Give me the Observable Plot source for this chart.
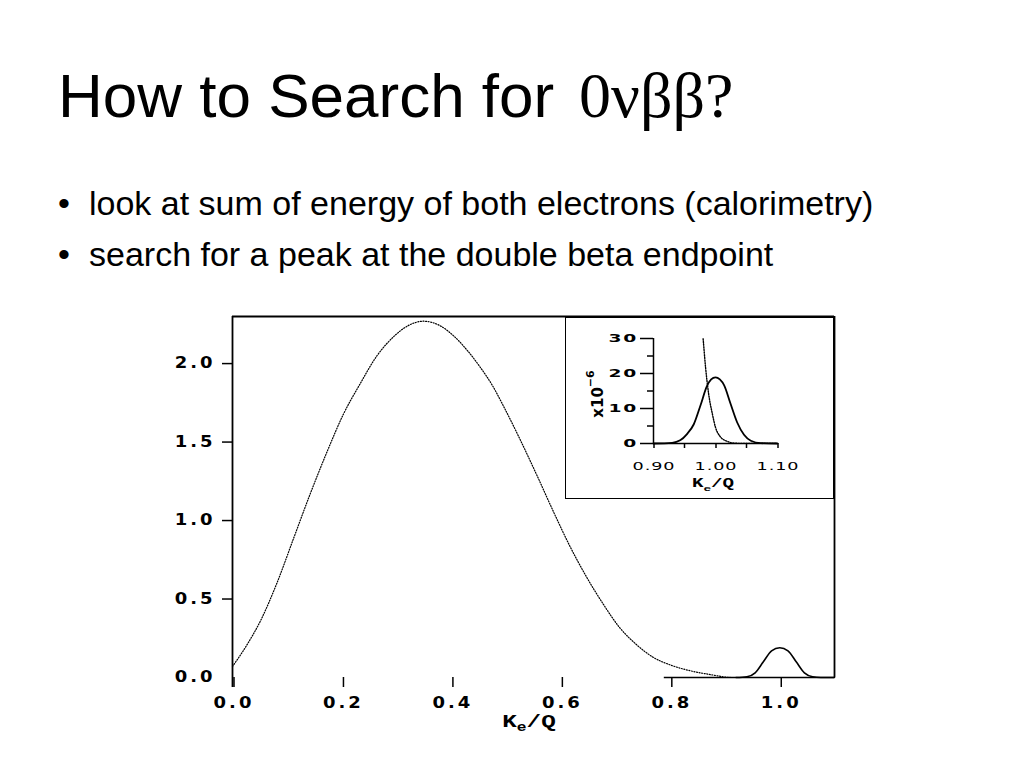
<!DOCTYPE html>
<html>
<head>
<meta charset="utf-8">
<script src="https://cdn.jsdelivr.net/npm/d3@7"></script>
<script src="https://cdn.jsdelivr.net/npm/@observablehq/plot@0.6"></script>
<style>
  html, body { margin: 0; padding: 0; background: #fff; }
  #page { position: relative; width: 1024px; height: 768px; overflow: hidden; background: #fff; }
  #main, #inset { position: absolute; }
  #main { left: 0; top: 290px; }
  #inset { left: 566px; top: 318px; outline: 1.5px solid #000; background: #fff; }
  .tick-lab text { letter-spacing: 2.5px; }
  .tick-lab-in text { letter-spacing: 0.6px; }
  .tick-lab-iny text { letter-spacing: 1px; }
</style>
</head>
<body>
<div id="page">
  <svg id="txt" width="1024" height="290" style="position:absolute;left:0;top:0">
    <text x="58" y="117" style="font-family:'Liberation Sans',Arial,sans-serif;font-size:62px;fill:#000">How to Search for <tspan x="579" style="font-family:'Liberation Serif','Times New Roman',serif;font-size:64px">0νββ?</tspan></text>
    <text x="58" y="215" style="font-family:'Liberation Sans',Arial,sans-serif;font-size:34px;fill:#000">•</text>
    <text x="89" y="215" style="font-family:'Liberation Sans',Arial,sans-serif;font-size:34px;fill:#000">look at sum of energy of both electrons (calorimetry)</text>
    <text x="58" y="266" style="font-family:'Liberation Sans',Arial,sans-serif;font-size:34px;fill:#000">•</text>
    <text x="89" y="266" style="font-family:'Liberation Sans',Arial,sans-serif;font-size:34px;fill:#000">search for a peak at the double beta endpoint</text>
  </svg>
  <div id="main"></div>
  <div id="inset"></div>
</div>
<script>
// ---- Main spectrum: two-neutrino (2νββ) continuum ----
const twoNuX = [0.000, 0.025, 0.051, 0.081, 0.112, 0.142, 0.173, 0.203, 0.233, 0.264, 0.294, 0.320, 0.349, 0.380, 0.403, 0.430, 0.452, 0.475, 0.495, 0.525, 0.556, 0.586, 0.616, 0.647, 0.677, 0.707, 0.738, 0.768, 0.800, 0.840, 0.871, 0.913, 1.100];
const twoNuY = [0.07, 0.20, 0.36, 0.60, 0.89, 1.17, 1.44, 1.68, 1.87, 2.05, 2.17, 2.24, 2.27, 2.24, 2.18, 2.08, 1.98, 1.86, 1.73, 1.52, 1.29, 1.06, 0.84, 0.64, 0.47, 0.32, 0.21, 0.13, 0.08, 0.04, 0.02, 0.00, 0.00];

// ---- Main spectrum: zero-neutrino (0νββ) peak ----
const zeroNuX = [0.920, 0.940, 0.955, 0.970, 0.985, 1.000, 1.015, 1.030, 1.045, 1.060, 1.075, 1.100];
const zeroNuY = [0.000, 0.005, 0.030, 0.100, 0.170, 0.190, 0.170, 0.100, 0.030, 0.005, 0.000, 0.000];

// ---- Inset (units of 1e-6) ----
const insetPeakX = [0.900, 0.930, 0.943, 0.954, 0.965, 0.976, 0.986, 0.993, 1.000, 1.007, 1.014, 1.024, 1.035, 1.046, 1.057, 1.073, 1.100];
const insetPeakY = [0.0, 0.2, 0.9, 2.7, 5.5, 11.0, 16.3, 18.3, 18.9, 18.3, 16.6, 11.5, 6.0, 2.5, 0.8, 0.1, 0.0];
const insetTailX = [0.976, 0.980, 0.984, 0.989, 0.995, 1.000, 1.008, 1.019, 1.030, 1.045, 1.100];
const insetTailY = [38, 30, 21.7, 14.1, 8.4, 4.6, 1.9, 0.6, 0.1, 0, 0];

// ---- Axes ----
const mainXTicks = [0.0, 0.2, 0.4, 0.6, 0.8, 1.0];
const mainYTicks = [0.0, 0.5, 1.0, 1.5, 2.0];
const mainXDomain = [0, 1.1];
const mainYDomain = [0, 2.3];
const insetXTicks = [0.90, 1.00, 1.10];
const insetXMinor = [0.95, 1.05];
const insetYTicks = [0, 10, 20, 30];
const insetYMinor = [5, 15, 25];
const insetXDomain = [0.9, 1.1];
const insetYDomain = [0, 30];

const zip = (xs, ys) => xs.map((x, i) => ({x, y: ys[i]}));
const twoNu = zip(twoNuX, twoNuY);
const zeroNu = zip(zeroNuX, zeroNuY);
const inPeak = zip(insetPeakX, insetPeakY);
const inTail = zip(insetTailX, insetTailY);

// widen text horizontally around its anchor (the scanned plot font is very wide)
function stretch(nodes, s) {
  nodes.forEach(t => {
    const x = parseFloat(t.getAttribute("x")) || 0;
    const tr = t.getAttribute("transform") || "";
    t.removeAttribute("x");
    t.setAttribute("transform", `${tr} translate(${x},0) scale(${s},1)`);
  });
}

const W = 1024, H = 460, mL = 232, mR = 190, mT = 26, mB = 73;
const main = Plot.plot({
  width: W, height: H,
  marginLeft: mL, marginRight: mR, marginTop: mT, marginBottom: mB,
  style: {fontFamily: "'DejaVu Sans'", fontSize: "15px", fontWeight: "bold", color: "#000", background: "transparent"},
  x: {domain: mainXDomain},
  y: {domain: mainYDomain},
  marks: [
    Plot.axisX({ticks: mainXTicks, tickFormat: d3.format(".1f"), tickSize: 10, tickPadding: 10, dx: 1.5, label: null, className: "tick-lab", strokeWidth: 1.5}),
    Plot.axisY({ticks: mainYTicks, tickFormat: d3.format(".1f"), tickSize: 0, tickPadding: 17, label: null, className: "tick-lab"}),
    Plot.axisY({ticks: mainYTicks.filter(d => d > 0), tickSize: 10, text: null, label: null, strokeWidth: 1.5}),
    // frame (left extends below by tick length, bottom only partial as in the scan)
    Plot.ruleX([mainXDomain[0]], {y1: -10 / ((H - mT - mB) / mainYDomain[1]), y2: mainYDomain[1], stroke: "#000", strokeWidth: 1.8}),
    Plot.ruleX([mainXDomain[1]], {y1: 0, y2: mainYDomain[1], stroke: "#000", strokeWidth: 1.8}),
    Plot.ruleY([mainYDomain[1]], {x1: mainXDomain[0], x2: mainXDomain[1], stroke: "#000", strokeWidth: 1.8}),
    Plot.ruleY([0], {x1: 0.789, x2: mainXDomain[1], stroke: "#000", strokeWidth: 1.5}),
    Plot.line(twoNu, {x: "x", y: "y", stroke: "#000", strokeWidth: 1.2, strokeDasharray: "1 1.6", curve: "monotone-x"}),
    Plot.line(zeroNu, {x: "x", y: "y", stroke: "#000", strokeWidth: 1.6, curve: "monotone-x"})
  ]
});
document.getElementById("main").appendChild(main);
stretch(main.querySelectorAll(".tick-lab text"), 1.2);

// main x label  K_e/Q
{
  const svg = d3.select(main);
  const cx = (mL + (W - mR)) / 2 - 4;
  const t = svg.append("text")
    .attr("transform", `translate(${cx},${H - mB + 50}) scale(1.35,1)`)
    .attr("text-anchor", "middle")
    .style("font-family", "'Liberation Mono', 'Courier New', monospace")
    .style("font-weight", "bold").style("font-size", "18px");
  t.append("tspan").text("K");
  t.append("tspan").attr("dy", 4).style("font-size", "12px").text("e");
  t.append("tspan").attr("dy", -4).text("/Q");
}

const iW = 267, iH = 180, iL = 87, iR = 56, iT = 20, iB = 55;
const inset = Plot.plot({
  width: iW, height: iH,
  marginLeft: iL, marginRight: iR, marginTop: iT, marginBottom: iB,
  style: {fontFamily: "'DejaVu Sans'", fontSize: "11px", color: "#000", background: "#fff"},
  x: {domain: insetXDomain},
  y: {domain: insetYDomain},
  marks: [
    Plot.axisX({ticks: insetXTicks, tickFormat: d3.format(".2f"), tickSize: 5, tickPadding: 14, dx: 0.5, label: null, className: "tick-lab-in", strokeWidth: 1.5}),
    Plot.axisX({ticks: insetXMinor, tickSize: 5, text: null, label: null, strokeWidth: 1.5}),
    Plot.axisY({ticks: insetYTicks, tickSize: 13, tickPadding: 2.5, label: null, className: "tick-lab-iny", fontWeight: "bold", fontSize: 11, strokeWidth: 1.5}),
    Plot.axisY({ticks: insetYMinor, tickSize: 6, text: null, label: null, strokeWidth: 1.5}),
    Plot.ruleX([insetXDomain[0]], {y1: insetYDomain[0], y2: insetYDomain[1], stroke: "#000", strokeWidth: 1.5}),
    Plot.ruleY([0], {x1: insetXDomain[0], x2: insetXDomain[1], stroke: "#000", strokeWidth: 1.5}),
    Plot.line(inTail, {x: "x", y: "y", stroke: "#000", strokeWidth: 1.4, strokeDasharray: "1.2 1.4", curve: "monotone-x", clip: true}),
    Plot.line(inPeak, {x: "x", y: "y", stroke: "#000", strokeWidth: 1.8, curve: "monotone-x"})
  ]
});
document.getElementById("inset").appendChild(inset);
stretch(inset.querySelectorAll(".tick-lab-in text"), 1.6);
stretch(inset.querySelectorAll(".tick-lab-iny text"), 1.7);
{
  const svg = d3.select(inset);
  const cx = (iL + (iW - iR)) / 2 - 2;
  const t = svg.append("text")
    .attr("transform", `translate(${cx},${169}) scale(1.6,1)`)
    .attr("text-anchor", "middle")
    .style("font-family", "'Liberation Mono', 'Courier New', monospace")
    .style("font-weight", "bold").style("font-size", "12px");
  t.append("tspan").text("K");
  t.append("tspan").attr("dy", 4).style("font-size", "8px").text("e");
  t.append("tspan").attr("dy", -4).text("/Q");
  const r = svg.append("text")
    .attr("transform", `translate(${37},${76}) rotate(-90)`)
    .attr("text-anchor", "middle")
    .style("font-family", "'DejaVu Sans', sans-serif")
    .style("font-weight", "bold").style("font-size", "15px");
  r.append("tspan").text("x10");
  r.append("tspan").attr("dy", -9).style("font-size", "11px").text("−6");
}
</script>
</body>
</html>
